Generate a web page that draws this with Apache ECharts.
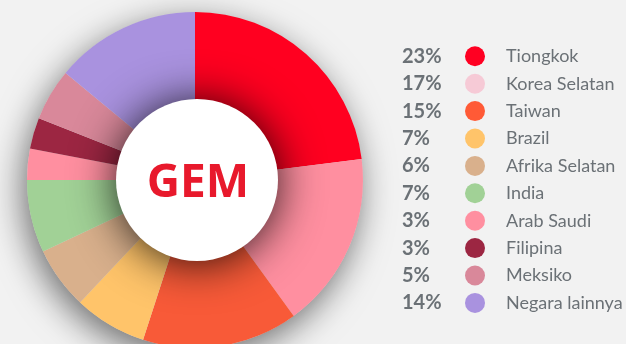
<!DOCTYPE html>
<html>
<head>
<meta charset="utf-8">
<script src="https://cdn.jsdelivr.net/npm/echarts@6/dist/echarts.min.js"></script>
<style>
  html, body { margin: 0; padding: 0; background: #f2f2f2; }
  #chart { width: 626px; height: 344px; }
</style>
</head>
<body>
<div id="chart"></div>
<script>
// Country shares of the GEM index (percent)
const countries = ['Tiongkok', 'Korea Selatan', 'Taiwan', 'Brazil', 'Afrika Selatan',
                   'India', 'Arab Saudi', 'Filipina', 'Meksiko', 'Negara lainnya'];
const shares = [23, 17, 15, 7, 6, 7, 3, 3, 5, 14];
const sliceColors = ['#ff0020', '#ff8fa0', '#f85a38', '#ffc46a', '#d9b08c',
                     '#a1d196', '#ff8fa0', '#9c2642', '#d9889a', '#a992df'];
const legendColors = ['#ff0022', '#f6cad6', '#ff5a36', '#ffc46a', '#d9b08c',
                      '#a1d196', '#ff8fa0', '#9c2642', '#d9889a', '#a992df'];
const centerLabel = 'GEM';

const chart = echarts.init(document.getElementById('chart'));

const CX = 195, CY = 180, R = 168, R_IN = 81;
const ROW0 = 56.3, ROW_STEP = 27.4;

const pctTexts = shares.map((v, i) => ({
  type: 'text',
  left: 402,
  top: ROW0 + i * ROW_STEP - 10,
  style: {
    text: v + '%',
    fill: '#6b7176',
    font: 'bold 20px Lato'
  }
}));

// centre caption on the white hub
const hubText = {
  type: 'text',
  x: CX + 3,
  y: CY + 4,
  z: 100,
  style: {
    text: centerLabel,
    fill: '#e8192c',
    font: 'bold 46px "Open Sans"',
    align: 'center',
    verticalAlign: 'middle'
  }
};

chart.setOption({
  backgroundColor: '#f2f2f2',
  animation: false,
  legend: {
    orient: 'vertical',
    left: 465,
    top: ROW0 - 10,
    padding: 0,
    icon: 'circle',
    itemWidth: 20,
    itemHeight: 20,
    itemGap: ROW_STEP - 20,
    selectedMode: false,
    data: countries.map((n, i) => ({ name: n, itemStyle: { color: legendColors[i] } })),
    formatter: n => '{n|' + n + '}',
    textStyle: {
      rich: {
        n: {
          fontFamily: 'Lato',
          fontSize: 18,
          lineHeight: 20,
          color: '#6b7176',
          padding: [0, 0, 0, 16]
        }
      }
    }
  },
  graphic: pctTexts.concat([hubText]),
  series: [
    {
      // drop shadow beneath the whole disc
      type: 'pie',
      center: [CX, CY],
      radius: [0, R],
      silent: true,
      label: { show: false },
      legendHoverLink: false,
      data: [{ value: 1, name: '_bg' }],
      itemStyle: {
        color: '#d8d8d8',
        shadowBlur: 34,
        shadowOffsetX: -4,
        shadowOffsetY: 10,
        shadowColor: 'rgba(0,0,0,0.55)'
      }
    },
    {
      type: 'pie',
      center: [CX, CY],
      radius: [40, R],
      startAngle: 90,
      clockwise: true,
      silent: true,
      label: { show: false },
      labelLine: { show: false },
      itemStyle: { borderWidth: 0 },
      data: countries.map((n, i) => ({
        name: n,
        value: shares[i],
        itemStyle: { color: sliceColors[i] }
      }))
    },
    {
      // white hub with its shadow falling on the ring
      type: 'pie',
      center: [CX + 2, CY],
      radius: [0, R_IN],
      silent: true,
      legendHoverLink: false,
      data: [{ value: 1, name: '_hub' }],
      itemStyle: {
        color: '#ffffff',
        shadowBlur: 45,
        shadowOffsetY: 2,
        shadowColor: 'rgba(0,0,0,0.85)'
      },
      label: { show: false },
      labelLine: { show: false }
    }
  ]
});
</script>
</body>
</html>
